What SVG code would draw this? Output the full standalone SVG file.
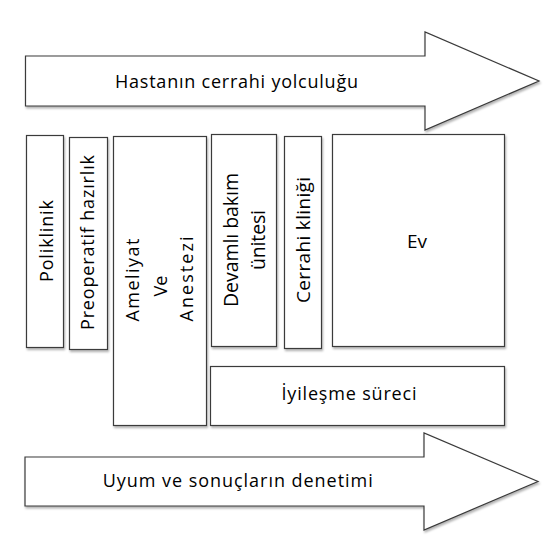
<svg xmlns="http://www.w3.org/2000/svg" width="556" height="548" viewBox="0 0 556 548">
<defs>
<filter id="sh" x="-10%" y="-10%" width="130%" height="130%">
<feDropShadow dx="1" dy="2" stdDeviation="1" flood-color="#000" flood-opacity="0.3"/>
</filter>
</defs>
<style>
.box{fill:#fff;stroke:#3a3a3a;stroke-width:1.2;filter:url(#sh)}
.t{font-family:"Open Sans","Noto Sans","Liberation Sans",sans-serif;font-size:18px;fill:#000;text-anchor:middle}
</style>
<rect width="556" height="548" fill="#fff"/>
<g id="connectors">
<g id="arrow-top">
<path class="box" d="M25.5,56 H425 V32 L539,81 L425,130 V106 H25.5 Z"/>
<text class="t" x="236.5" y="88" textLength="243">Hastanın cerrahi yolculuğu</text>
</g>
<g id="arrow-bottom">
<path class="box" d="M25,457 H424 V433 L538,481.5 L424,530 V506 H25 Z"/>
<text class="t" x="237.7" y="487.3" textLength="270">Uyum ve sonuçların denetimi</text>
</g>
</g>
<g id="poliklinik">
<rect class="box" x="26.5" y="135.5" width="37" height="212"/>
<text class="t" transform="translate(52.7,241) rotate(-90)" textLength="82">Poliklinik</text>
</g>
<g id="preoperatif">
<rect class="box" x="69.5" y="137.5" width="38" height="212"/>
<text class="t" transform="translate(94,242.5) rotate(-90)" textLength="175">Preoperatif hazırlık</text>
</g>
<g id="ameliyat">
<rect class="box" x="113.5" y="136.5" width="93" height="289"/>
<text class="t" transform="translate(139,280) rotate(-90)" textLength="83">Ameliyat</text>
<text class="t" transform="translate(166.5,286) rotate(-90)">Ve</text>
<text class="t" transform="translate(193,279) rotate(-90)" textLength="85">Anestezi</text>
</g>
<g id="devamli">
<rect class="box" x="211.5" y="134.5" width="65" height="212"/>
<text class="t" style="font-size:19.5px" transform="translate(238,240) rotate(-90)" textLength="134">Devamlı bakım</text>
<text class="t" style="font-size:19.5px" transform="translate(265,240) rotate(-90)" textLength="60">ünitesi</text>
</g>
<g id="cerrahi">
<rect class="box" x="284.5" y="136.5" width="37" height="212"/>
<text class="t" style="font-size:19px" transform="translate(310,240) rotate(-90)" textLength="126">Cerrahi kliniği</text>
</g>
<g id="ev">
<rect class="box" x="332.5" y="134.5" width="172" height="212"/>
<text class="t" style="font-size:19px" x="417" y="248.3">Ev</text>
</g>
<g id="iyilesme">
<rect class="box" x="210.5" y="366.5" width="294" height="59"/>
<text class="t" x="349" y="400" textLength="135">İyileşme süreci</text>
</g>
</svg>
